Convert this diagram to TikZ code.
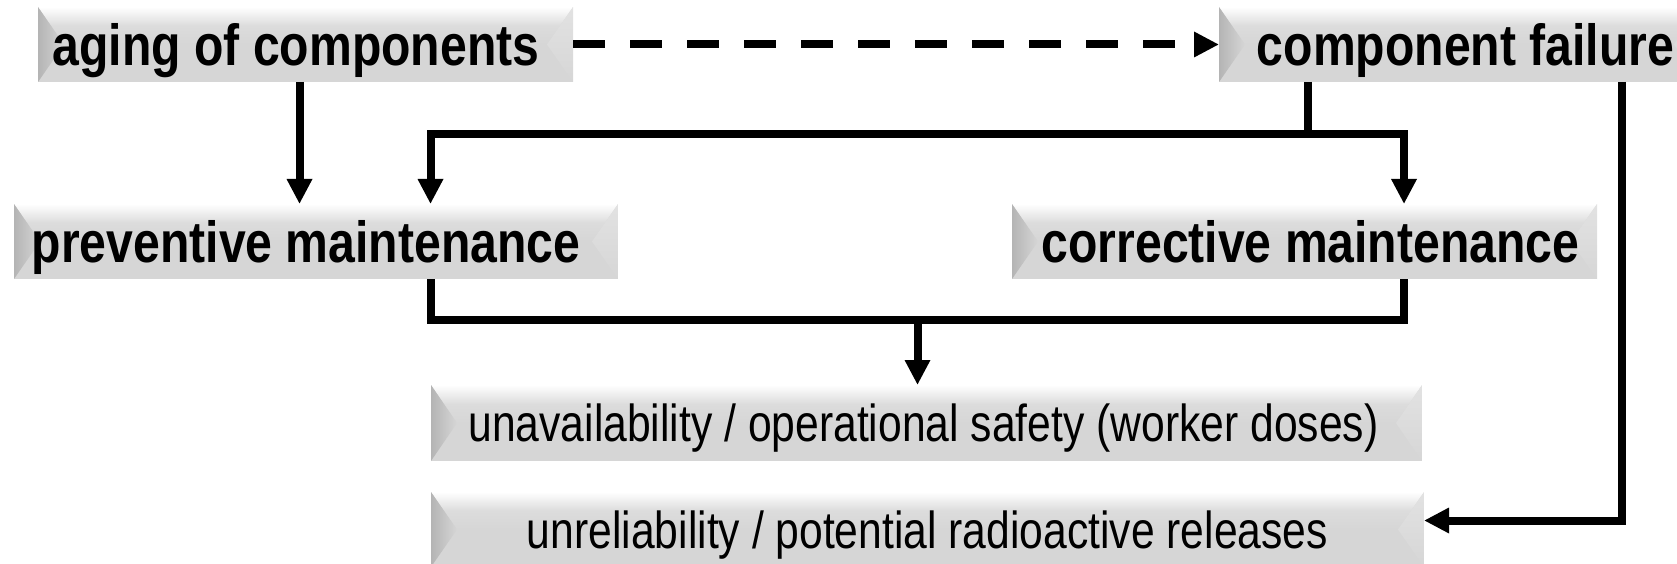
\documentclass[tikz,border=0pt]{standalone}
\usepackage{fontspec}
\setmainfont{Liberation Sans}
\newfontfamily\lblfont[FakeStretch=0.83]{Liberation Sans}
\newfontfamily\lblfontnarrow[FakeStretch=0.82]{Liberation Sans}
\usetikzlibrary{arrows.meta}
\definecolor{bvface}{HTML}{D6D6D6}
\definecolor{bvmid}{HTML}{DCDCDC}
\definecolor{bvdark}{HTML}{B4B4B4}
\definecolor{bvlight}{HTML}{E2E2E2}
\tikzset{
  bevel/.style={inner sep=0pt, outer sep=0pt, minimum height=75pt,
    path picture={
      \fill[bvface] (path picture bounding box.south west) rectangle (path picture bounding box.north east);
      \shade[top color=white, bottom color=bvface, middle color=bvmid]
        (path picture bounding box.north west) -- (path picture bounding box.north east)
        -- ([xshift=-26pt]path picture bounding box.east) -- ([xshift=26pt]path picture bounding box.west) -- cycle;
      \shade[left color=bvdark, right color=bvface]
        (path picture bounding box.north west) -- ([xshift=26pt]path picture bounding box.west)
        -- (path picture bounding box.south west) -- cycle;
      \shade[top color=bvlight, bottom color=bvface]
        (path picture bounding box.north east) -- ([xshift=-26pt]path picture bounding box.east)
        -- (path picture bounding box.south east) -- cycle;
    }},
  boldbox/.style={bevel, text height=41.5pt, text depth=0pt,
    font=\lblfont\bfseries\fontsize{58}{66}\selectfont},
  plainbox/.style={bevel, text height=37.2pt, text depth=0pt,
    font=\lblfontnarrow\fontsize{52}{60}\selectfont},
  link/.style={line width=8pt, line join=miter},
  arrowlink/.style={link, -{Triangle[length=25pt,width=24pt]}},
}
\begin{document}
\begin{tikzpicture}[x=1pt,y=1pt]
  \path[use as bounding box] (0,0) rectangle (1677,-564);
  \clip (0,0) rectangle (1677,-564);

  % boxes
  \node[boldbox, minimum width=535pt] (aging) at (305.5,-44.5) {aging of components\hspace*{19pt}};
  \node[boldbox, minimum width=481pt] (failure) at (1459.5,-44.5) {\hspace*{12pt}component failure};
  \node[boldbox, minimum width=604pt] (prev) at (316,-241.5) {preventive maintenance\hspace*{20pt}};
  \node[boldbox, minimum width=585pt] (corr) at (1304.5,-241.5) {\hspace*{12pt}corrective maintenance};
  \node[plainbox, minimum width=991pt, minimum height=76pt] (unavail) at (926.5,-423) {unavailability / operational safety (worker doses)\hspace*{6pt}};
  \node[plainbox, minimum width=993pt] (unrel) at (927.5,-529.5) {unreliability / potential radioactive releases};

  % routing positions
  \coordinate (xA) at (299.5,0);
  \coordinate (xL) at (430.5,0);
  \coordinate (xR) at (1404,0);
  \coordinate (xE) at (1622,0);
  \coordinate (busT) at (1308,-134.5);
  \coordinate (busB) at (917.5,-319.5);
  \coordinate (yE) at (0,-520.5);

  % connectors
  \draw[arrowlink, dash pattern=on 32pt off 25pt] (aging.east) -- (failure.west);
  \draw[arrowlink] (aging.south -| xA) -- (prev.north -| xA);
  \draw[link] (failure.south -| busT) -- (busT);
  \draw[arrowlink] (busT) -| (prev.north -| xL);
  \draw[arrowlink] (busT) -| (corr.north -| xR);
  \draw[link] (prev.south -| xL) -- (xL |- busB) -- (xR |- busB) -- (corr.south -| xR);
  \draw[arrowlink] (busB) -- (unavail.north -| busB);
  \draw[arrowlink] (failure.south -| xE) |- (unrel.east |- yE);
\end{tikzpicture}
\end{document}
